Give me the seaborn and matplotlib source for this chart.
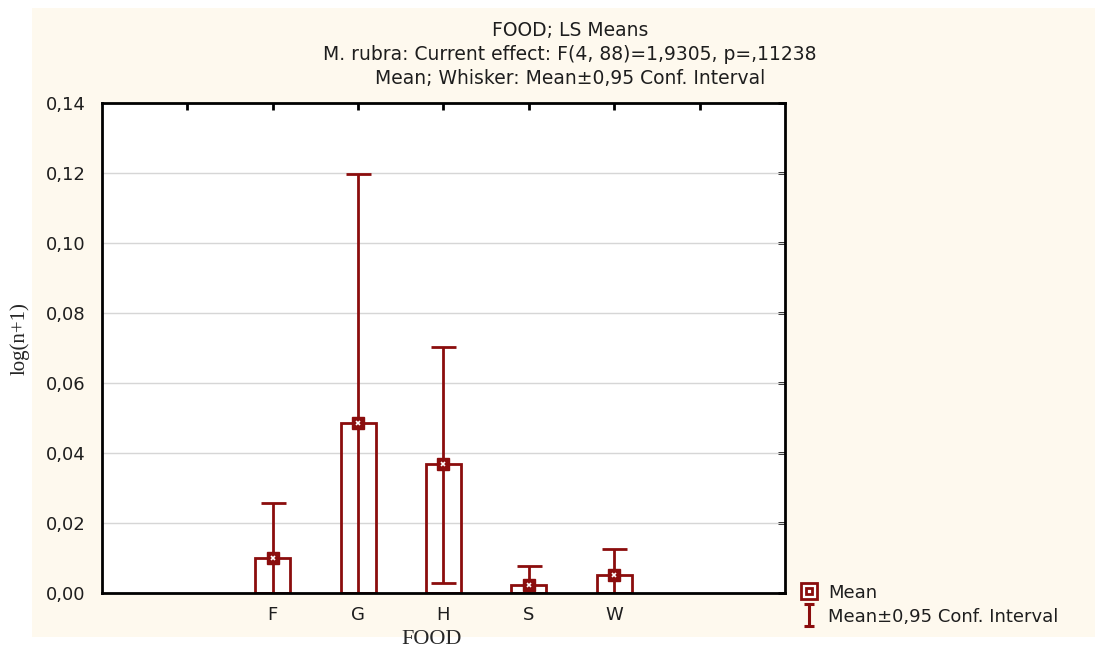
"""
LS means of log(n+1) for M. rubra by FOOD type, with 0.95 confidence whiskers
(STATISTICA-style bar chart).
"""
import matplotlib
matplotlib.use("Agg")
import matplotlib.pyplot as plt
from matplotlib.lines import Line2D
from matplotlib.patches import Rectangle
from matplotlib.path import Path
import pandas as pd
import seaborn as sns

# values
foods = ["F", "G", "H", "S", "W"]
means = [0.0100, 0.0486, 0.0369, 0.0023, 0.0051]
ci_upper = [0.0257, 0.1197, 0.0703, 0.0077, 0.0126]
ci_lower = [-0.0057, -0.0225, 0.0029, -0.0031, -0.0024]
y_ticks = [0.00, 0.02, 0.04, 0.06, 0.08, 0.10, 0.12, 0.14]
# blank slots at both ends, like the original axis
order = [" "] + foods + ["  "]

DARK_RED = "#8b0d0d"
CREAM = "#fef9ee"
TEXT = "#1e1e1e"

sns.set_theme(style="white")
plt.rcParams["font.family"] = ["DejaVu Sans"]

df = pd.DataFrame({"FOOD": foods, "mean": means})

fig = plt.figure(figsize=(10.95, 6.52), dpi=100)
fig.patch.set_facecolor("white")
fig.patches.append(Rectangle((32 / 1095, 15 / 652), 1 - 32 / 1095, 629 / 652,
                             transform=fig.transFigure, facecolor=CREAM,
                             edgecolor="none", zorder=-10))

ax = fig.add_axes([102 / 1095, 59 / 652, 683 / 1095, 490 / 652])
ax.set_facecolor("white")

sns.barplot(data=df, x="FOOD", y="mean", order=order, ax=ax, width=0.41,
            fill=False, color=DARK_RED, linewidth=2, errorbar=None, zorder=3)
for p in ax.patches:
    p.set_edgecolor(DARK_RED)
    p.set_facecolor("none")

xpos = [order.index(f) for f in foods]
yerr = [[m - lo for m, lo in zip(means, ci_lower)],
        [hi - m for m, hi in zip(means, ci_upper)]]
ax.errorbar(xpos, means, yerr=yerr, fmt="none", ecolor=DARK_RED,
            elinewidth=2, capsize=9, capthick=2, zorder=4)
ax.plot(xpos, means, ls="none", marker="s", ms=8, mfc=DARK_RED,
        mec=DARK_RED, zorder=5)
ax.plot(xpos, means, ls="none", marker="x", ms=3.5, mew=1.2, color="white",
        zorder=6)

ax.set_xlim(-1, 7)
ax.set_ylim(0, 0.14)
ax.set_yticks(y_ticks)
ax.set_yticklabels([f"{v:.2f}".replace(".", ",") for v in y_ticks])
ax.set_xticks(range(len(order)))
ax.set_xticklabels(order)
for v in y_ticks[1:-1]:
    ax.axhline(v, color="#d6d6d6", lw=1, zorder=1)

for s in ax.spines.values():
    s.set_visible(True)
    s.set_color("black")
    s.set_linewidth(2)
    s.set_zorder(7)
ax.tick_params(direction="in", length=5, width=2, top=True, right=True,
               labelsize=13, colors="black", pad=9)
ax.tick_params(axis="y", pad=12)
for lbl in ax.get_xticklabels() + ax.get_yticklabels():
    lbl.set_color(TEXT)

ax.set_xlabel("FOOD", family="Liberation Serif", fontsize=16)
ax.xaxis.set_label_coords((432 - 102) / 683, -(640 - 593) / 490)
ax.xaxis.label.set_va("center")
ax.set_ylabel("log(n+1)", family="Liberation Serif", fontsize=15)
ax.yaxis.set_label_coords(-(102 - 20) / 683, (593 - 339) / 490)
ax.yaxis.label.set_va("center")

title_lines = [
    "FOOD; LS Means",
    "M. rubra: Current effect: F(4, 88)=1,9305, p=,11238",
    "Mean; Whisker: Mean\u00b10,95 Conf. Interval",
]
for i, line in enumerate(title_lines):
    fig.text(570 / 1095, 1 - (31 + 23.5 * i) / 652, line, ha="center",
             va="center", fontsize=13.5, color=TEXT)

# legend icons: square-in-square for the mean, I-beam for the interval
ibeam = Path([(-0.45, -1), (0.45, -1), (0, -1), (0, 1), (-0.45, 1), (0.45, 1)],
             [Path.MOVETO, Path.LINETO, Path.MOVETO, Path.LINETO,
              Path.MOVETO, Path.LINETO])
mean_handle = (
    Line2D([], [], ls="none", marker="s", ms=12, mfc="white", mec=DARK_RED, mew=2),
    Line2D([], [], ls="none", marker="s", ms=5, mfc="white", mec=DARK_RED, mew=2),
)
ci_handle = Line2D([], [], ls="none", marker=ibeam, ms=16, mew=2.2,
                   color=DARK_RED, fillstyle="none")
fig.legend([mean_handle, ci_handle], ["Mean", "Mean\u00b10,95 Conf. Interval"],
           loc="upper left", bbox_to_anchor=(800 / 1095, 1 - 584 / 652),
           frameon=False, fontsize=13, handlelength=1.0, handleheight=1.0,
           handletextpad=0.55, labelspacing=0.3, borderaxespad=0,
           borderpad=0, labelcolor=TEXT)

fig.savefig("out.png", dpi=100, facecolor=fig.get_facecolor())
